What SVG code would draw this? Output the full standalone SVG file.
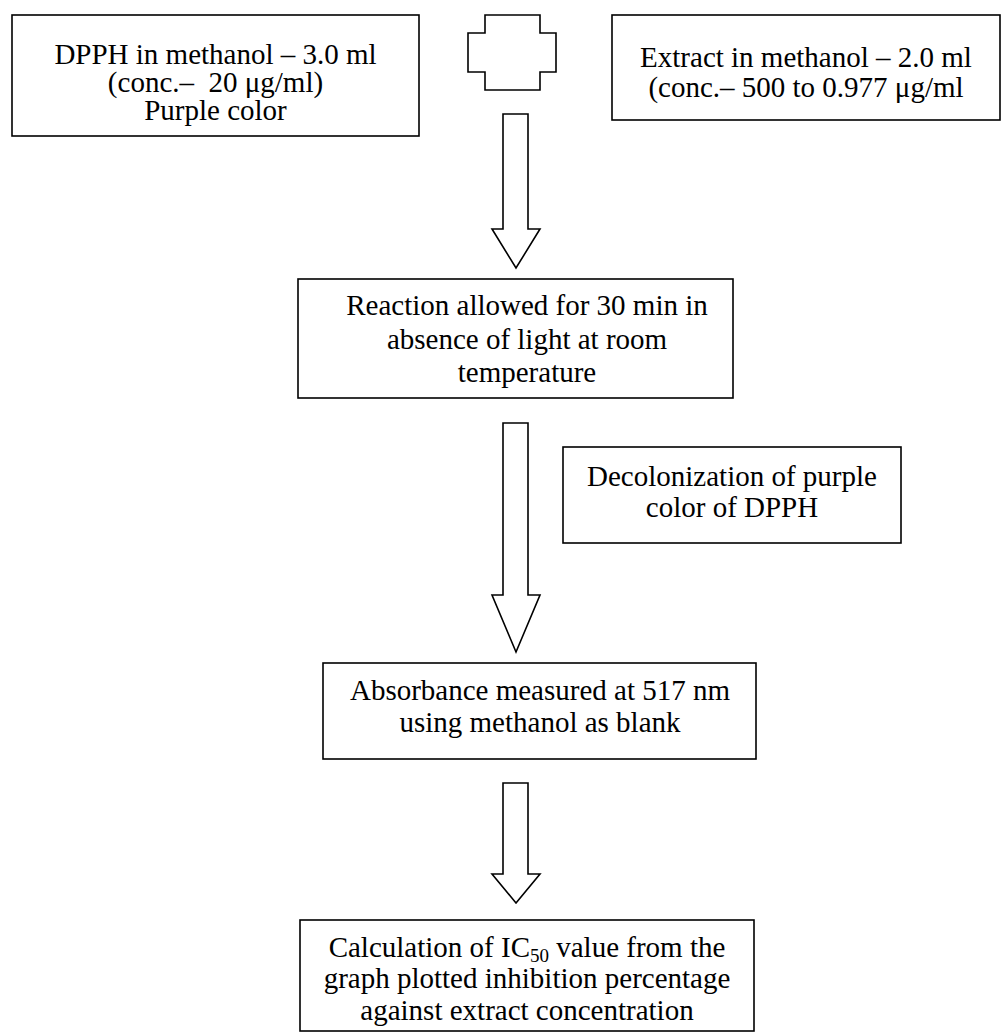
<svg xmlns="http://www.w3.org/2000/svg" width="1006" height="1033" viewBox="0 0 1006 1033">
  <style>
    .box { fill: #ffffff; stroke: #000000; stroke-width: 1.6; }
    .arrow { fill: #ffffff; stroke: #000000; stroke-width: 1.6; stroke-linejoin: miter; }
    .lbl { font-family: "Liberation Serif", "Times New Roman", serif; font-size: 29px; fill: #000000; text-anchor: middle; }
    .sub { font-size: 19px; }
  </style>
  <rect width="1006" height="1033" fill="#ffffff"/>

  <!-- DPPH solution -->
  <g id="dpph">
    <rect class="box" x="12" y="15" width="407" height="121"/>
    <text class="lbl" x="215.5" y="64">DPPH in methanol – 3.0 ml</text>
    <text class="lbl" x="215.5" y="92">(conc.–&#160; 20 μg/ml)</text>
    <text class="lbl" x="215.5" y="120">Purple color</text>
  </g>

  <!-- mixing symbol -->
  <g id="plus">
    <path class="arrow" d="M485,15 H540 V33 H556 V72 H540 V90 H485 V72 H468 V33 H485 Z"/>
  </g>

  <!-- extract solution -->
  <g id="extract">
    <rect class="box" x="612" y="15" width="388" height="105"/>
    <text class="lbl" x="806" y="67">Extract in methanol – 2.0 ml</text>
    <text class="lbl" x="806" y="97">(conc.– 500 to 0.977 μg/ml</text>
  </g>

  <!-- incubation -->
  <g id="reaction">
    <rect class="box" x="298" y="279" width="435" height="119"/>
    <text class="lbl" x="527" y="315">Reaction allowed for 30 min in</text>
    <text class="lbl" x="527" y="349">absence of light at room</text>
    <text class="lbl" x="527" y="382">temperature</text>
  </g>

  <!-- side note -->
  <g id="decolonization">
    <rect class="box" x="563" y="447" width="338" height="96"/>
    <text class="lbl" x="732" y="486">Decolonization of purple</text>
    <text class="lbl" x="732" y="517">color of DPPH</text>
  </g>

  <!-- measurement -->
  <g id="absorbance">
    <rect class="box" x="323" y="663" width="433" height="96"/>
    <text class="lbl" x="540" y="700">Absorbance measured at 517 nm</text>
    <text class="lbl" x="540" y="732">using methanol as blank</text>
  </g>

  <!-- result -->
  <g id="ic50">
    <rect class="box" x="300" y="920" width="454" height="111"/>
    <text class="lbl" x="527" y="957">Calculation of IC<tspan class="sub" dy="5">50</tspan><tspan dy="-5"> value from the</tspan></text>
    <text class="lbl" x="527" y="988">graph plotted inhibition percentage</text>
    <text class="lbl" x="527" y="1020">against extract concentration</text>
  </g>

  <!-- block arrows -->
  <g id="connectors">
    <path class="arrow" d="M503,114 H528 V229 H540 L516,268 L492,229 H503 Z"/>
    <path class="arrow" d="M503,423 H528 V595 H540 L516,652 L492,595 H503 Z"/>
    <path class="arrow" d="M503,783 H528 V874 H540 L516,903 L492,874 H503 Z"/>
  </g>
</svg>
